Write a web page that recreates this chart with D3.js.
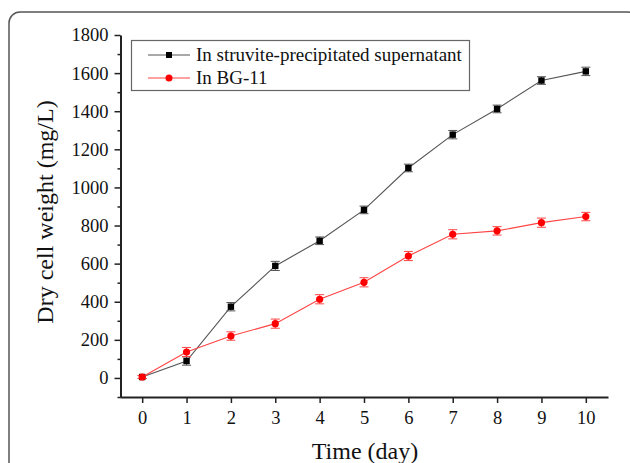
<!DOCTYPE html>
<html><head><meta charset="utf-8">
<script src="https://cdn.jsdelivr.net/npm/d3@7"></script>
<style>body{margin:0;background:#fff}svg{display:block}</style>
</head><body>
<script>
const days = [0,1,2,3,4,5,6,7,8,9,10];
const struvite = [5,89,374,588,720,882,1102,1277,1412,1561,1609];
const struviteErr = [8,22,22,24,20,20,20,22,20,20,22];
const bg11 = [5,136,220,285,413,502,640,754,772,815,847];
const bg11Err = [8,24,22,24,24,24,24,24,22,24,22];
const xTicks = [0,1,2,3,4,5,6,7,8,9,10];
const yTicks = [0,200,400,600,800,1000,1200,1400,1600,1800];
const yMinor = [-100,100,300,500,700,900,1100,1300,1500,1700];
const seriesNames = ["In struvite-precipitated supernatant","In BG-11"];

const W=630,H=463;
const svg=d3.select("body").append("svg").attr("width",W).attr("height",H);
const font="'Liberation Serif','Times New Roman',serif";

// frame
svg.append("rect").attr("x",9).attr("y",12).attr("width",630).attr("height",480)
  .attr("rx",11).attr("fill","none").attr("stroke","#555").attr("stroke-width",1.5);

const x=d3.scaleLinear().domain([-0.5,10.5]).range([120,608]);
const y=d3.scaleLinear().domain([-100,1800]).range([397,35]);

svg.append("g").attr("transform","translate(0,397)")
  .call(d3.axisBottom(x).tickValues(xTicks).tickSize(6).tickSizeOuter(0).tickPadding(8).tickFormat(d3.format("d")));
svg.append("g").attr("transform","translate(120.5,0)")
  .call(d3.axisLeft(y).tickValues(yTicks).tickSize(6).tickSizeOuter(0).tickPadding(6).tickFormat(d3.format("d")));
svg.append("g").attr("transform","translate(120.5,0)")
  .call(d3.axisLeft(y).tickValues(yMinor).tickSize(3).tickFormat(""))
  .select(".domain").remove();
svg.selectAll(".domain").attr("stroke","#222").attr("stroke-width",2);
svg.selectAll(".tick line").attr("stroke","#222").attr("stroke-width",1.5);
svg.selectAll(".tick text").attr("font-family",font).attr("font-size",18.5).attr("fill","#111");

svg.append("text").attr("x",365).attr("y",459).attr("text-anchor","middle")
  .attr("font-family",font).attr("font-size",24).attr("fill","#111").text("Time (day)");
svg.append("text").attr("transform","translate(53,212) rotate(-90)").attr("text-anchor","middle")
  .attr("font-family",font).attr("font-size",24).attr("fill","#111").text("Dry cell weight (mg/L)");

function drawSeries(vals,errs,lineColor,markColor,shape){
  const g=svg.append("g");
  const data=days.map((d,i)=>({d,v:vals[i],e:errs[i]}));
  g.append("path").datum(data).attr("fill","none").attr("stroke",lineColor).attr("stroke-width",1.1)
    .attr("d",d3.line().x(p=>x(p.d)).y(p=>y(p.v)));
  const eb=g.selectAll(".eb").data(data).enter().append("g");
  eb.append("line").attr("x1",p=>x(p.d)).attr("x2",p=>x(p.d)).attr("y1",p=>y(p.v-p.e)).attr("y2",p=>y(p.v+p.e)).attr("stroke",lineColor);
  eb.append("line").attr("x1",p=>x(p.d)-4.5).attr("x2",p=>x(p.d)+4.5).attr("y1",p=>y(p.v-p.e)).attr("y2",p=>y(p.v-p.e)).attr("stroke",lineColor);
  eb.append("line").attr("x1",p=>x(p.d)-4.5).attr("x2",p=>x(p.d)+4.5).attr("y1",p=>y(p.v+p.e)).attr("y2",p=>y(p.v+p.e)).attr("stroke",lineColor);
  if(shape==="square"){
    g.selectAll(".m").data(data).enter().append("rect").attr("x",p=>x(p.d)-3.2).attr("y",p=>y(p.v)-3.2)
      .attr("width",6.4).attr("height",6.4).attr("fill",markColor);
  } else {
    g.selectAll(".m").data(data).enter().append("circle").attr("cx",p=>x(p.d)).attr("cy",p=>y(p.v))
      .attr("r",3.6).attr("fill",markColor);
  }
}
drawSeries(struvite,struviteErr,"#555","#000","square");
drawSeries(bg11,bg11Err,"#f44","#f00","circle");

// legend
const lg=svg.append("g");
lg.append("rect").attr("x",131.5).attr("y",40.5).attr("width",338).attr("height",50)
  .attr("fill","#fff").attr("stroke","#666").attr("stroke-width",1.2);
const rows=[{n:seriesNames[0],c:"#555",m:"#000",s:"square",yy:55},{n:seriesNames[1],c:"#f44",m:"#f00",s:"circle",yy:78}];
rows.forEach(r=>{
  lg.append("line").attr("x1",148).attr("x2",190).attr("y1",r.yy).attr("y2",r.yy).attr("stroke",r.c).attr("stroke-width",1.1);
  if(r.s==="square") lg.append("rect").attr("x",166).attr("y",r.yy-3).attr("width",6).attr("height",6).attr("fill",r.m);
  else lg.append("circle").attr("cx",169).attr("cy",r.yy).attr("r",3.5).attr("fill",r.m);
  lg.append("text").attr("x",196).attr("y",r.yy+6).attr("font-family",font).attr("font-size",19).attr("fill","#111").text(r.n);
});
</script>
</body></html>
